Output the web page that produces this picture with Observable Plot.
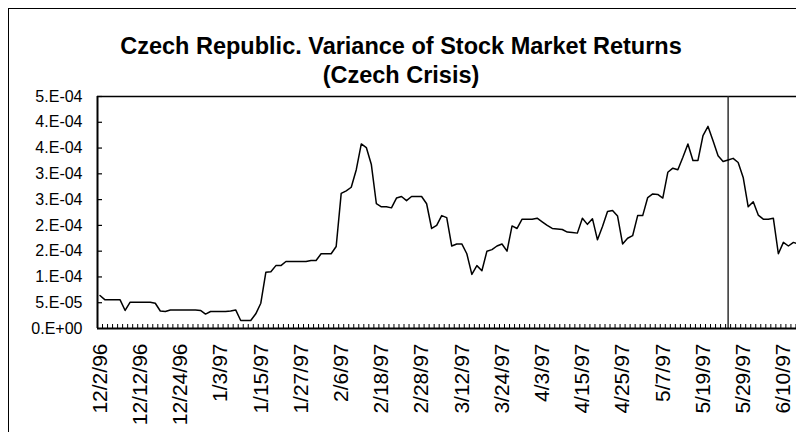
<!DOCTYPE html>
<html><head><meta charset="utf-8">
<script src="https://cdn.jsdelivr.net/npm/d3@7"></script>
<script src="https://cdn.jsdelivr.net/npm/@observablehq/plot@0.6"></script>
<style>
html,body{margin:0;padding:0;background:#fff;overflow:hidden;width:796px;height:432px;}
#wrap{position:relative;width:796px;height:432px;overflow:hidden;font-family:"Liberation Sans",Arial,sans-serif;}
#chart{position:absolute;left:0;top:0;}
#border{position:absolute;left:8px;top:8px;width:900px;height:600px;border:1px solid #000;box-sizing:border-box;pointer-events:none;}
.title{position:absolute;left:0;width:802px;text-align:center;font-weight:bold;font-size:23.5px;line-height:27px;color:#000;white-space:nowrap;}
</style></head>
<body>
<div id="wrap">
  <div id="chart"></div>
  <div id="border"></div>
  <div class="title" style="top:33px">Czech Republic. Variance of Stock Market Returns</div>
  <div class="title" style="top:62px">(Czech Crisis)</div>
</div>
<script>
// Variance of stock market returns, in units of 1e-4, one value per weekday from 12/2/96
const varianceE4 = [
  0.64, 0.556, 0.556, 0.556, 0.556, 0.35, 0.51, 0.51, 0.51, 0.51,
  0.51, 0.49, 0.34, 0.33, 0.36, 0.36, 0.36, 0.36, 0.36, 0.36,
  0.35, 0.28, 0.33, 0.33, 0.33, 0.33, 0.34, 0.36, 0.155, 0.155,
  0.155, 0.285, 0.49, 1.09, 1.10, 1.22, 1.22, 1.30, 1.30, 1.30,
  1.30, 1.30, 1.32, 1.32, 1.45, 1.45, 1.45, 1.59, 2.62, 2.67,
  2.74, 3.08, 3.58, 3.51, 3.18, 2.42, 2.36, 2.36, 2.34, 2.53,
  2.56, 2.48, 2.56, 2.56, 2.56, 2.42, 1.94, 2.00, 2.19, 2.15,
  1.60, 1.64, 1.64, 1.45, 1.05, 1.22, 1.12, 1.50, 1.53, 1.60,
  1.64, 1.50, 1.99, 1.94, 2.12, 2.12, 2.12, 2.14, 2.07, 2.00,
  1.94, 1.93, 1.92, 1.87, 1.86, 1.85, 2.14, 2.02, 2.13, 1.72,
  1.98, 2.27, 2.29, 2.18, 1.64, 1.75, 1.80, 2.19, 2.19, 2.54,
  2.61, 2.60, 2.53, 3.03, 3.11, 3.08, 3.32, 3.58, 3.26, 3.26,
  3.74, 3.92, 3.64, 3.35, 3.24, 3.27, 3.30, 3.22, 2.93, 2.36,
  2.46, 2.20, 2.12, 2.12, 2.14, 1.45, 1.67, 1.60, 1.67, 1.64
];
const startDate = "12/2/96";
const tickLabels = ["12/2/96","12/12/96","12/24/96","1/3/97","1/15/97","1/27/97","2/6/97","2/18/97","2/28/97",
  "3/12/97","3/24/97","4/3/97","4/15/97","4/25/97","5/7/97","5/19/97","5/29/97","6/10/97"];
const yTickValues = [0, 0.5e-4, 1e-4, 1.5e-4, 2e-4, 2.5e-4, 3e-4, 3.5e-4, 4e-4, 4.5e-4];
const yTickLabels = ["0.E+00","5.E-05","1.E-04","2.E-04","2.E-04","3.E-04","3.E-04","4.E-04","4.E-04","5.E-04"];
const crisisDate = "5/26/97";

// weekday categories
const fmt = d => `${d.getMonth()+1}/${d.getDate()}/${String(d.getFullYear()).slice(2)}`;
const dates = [];
{
  const [m, dd, yy] = startDate.split("/").map(Number);
  const d = new Date(1900 + yy, m - 1, dd);
  while (dates.length < varianceE4.length) {
    const wd = d.getDay();
    if (wd !== 0 && wd !== 6) dates.push(fmt(d));
    d.setDate(d.getDate() + 1);
  }
}
const rows = varianceE4.map((v, i) => ({i, date: dates[i], v: v * 1e-4}));
const tickIdx = tickLabels.map(l => dates.indexOf(l));
const crisisIdx = dates.indexOf(crisisDate);
const boundaries = d3.range(varianceE4.length + 1).map(i => i - 0.5);
const yLabel = new Map(yTickValues.map((v, k) => [v, yTickLabels[k]]));

const yMax = 4.5e-4;
const catTick = yMax * 4 / 232;   // ~4px inward category ticks
const valTick = 1.0;              // ~5px inward value ticks

const chart = Plot.plot({
  width: 796, height: 432,
  marginLeft: 97, marginRight: 0, marginTop: 96, marginBottom: 104,
  style: {background: "transparent", fontFamily: "'Liberation Sans', Arial, sans-serif", color: "#000"},
  x: {type: "linear", domain: [-0.5, 138.61]},
  y: {domain: [0, yMax]},
  marks: [
    Plot.axisY(yTickValues, {tickSize: 0, tickPadding: 15, tickFormat: v => yLabel.get(v), fontSize: 16, label: null}),
    Plot.axisX(tickIdx, {tickSize: 0, tickPadding: 15, tickRotate: -90, tickFormat: i => dates[i], fontSize: 21, label: null}),
    Plot.ruleY(yTickValues.filter(v => v > 0), {y: d => d, x1: -0.5, x2: -0.5 + valTick, stroke: "#000", strokeWidth: 1.2}),
    Plot.ruleX(boundaries, {x: d => d, y1: 0, y2: catTick, stroke: "#000", strokeWidth: 1}),
    Plot.ruleY([yMax], {stroke: "#000", strokeWidth: 1.5}),
    Plot.ruleX([crisisIdx], {stroke: "#222", strokeWidth: 1.4}),
    Plot.line(rows, {x: "i", y: "v", stroke: "#000", strokeWidth: 1.5}),
    Plot.ruleX([-0.5], {stroke: "#000", strokeWidth: 2}),
    Plot.ruleY([0], {stroke: "#000", strokeWidth: 2})
  ]
});
document.getElementById("chart").appendChild(chart);
</script>
</body></html>
